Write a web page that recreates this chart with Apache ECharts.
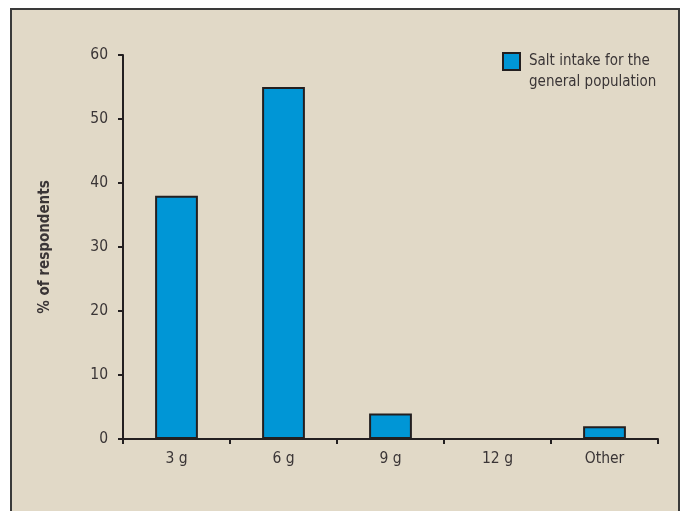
<!DOCTYPE html>
<html><head><meta charset="utf-8">
<script src="https://cdn.jsdelivr.net/npm/echarts@6/dist/echarts.min.js"></script>
<style>html,body{margin:0;padding:0;background:#fff}#c{width:680px;height:511px}</style>
</head><body><div id="c"></div>
<script>
const categories = ['3 g', '6 g', '9 g', '12 g', 'Other'];
const values = [38, 55, 4, 0, 2];
const seriesName = 'Salt intake for the\ngeneral population';
const yTicks = { min: 0, max: 60, interval: 10 };
const yName = '% of respondents';

const FONT = '"DejaVu Sans Condensed", "Liberation Sans Narrow", sans-serif';
const INK = '#231f20';
const TXT = '#3a3536';
const chart = echarts.init(document.getElementById('c'), null, { renderer: 'canvas' });
chart.setOption({
  backgroundColor: '#ffffff',
  animation: false,
  graphic: [{
    type: 'rect', z: -10, silent: true,
    shape: { x: 11, y: 9, width: 668, height: 520 },
    style: { fill: '#e1d9c7', stroke: '#3a3a3a', lineWidth: 2 }
  }],
  grid: { left: 123, top: 55, right: 22, bottom: 72, containLabel: false },
  legend: {
    left: 497, top: 25, orient: 'vertical', padding: 5,
    icon: 'rect', itemWidth: 17, itemHeight: 17, itemGap: 8,
    formatter: function (name) { return '\n' + name; },
    textStyle: { fontFamily: FONT, fontSize: 15, color: TXT, lineHeight: 21, padding: [0, 0, 0, 4] },
    data: [seriesName]
  },
  xAxis: {
    type: 'category', data: categories,
    axisLine: { lineStyle: { color: INK, width: 2 } },
    axisTick: { show: true, length: 5, lineStyle: { color: INK, width: 2 } },
    axisLabel: { fontFamily: FONT, fontSize: 15.5, color: TXT, margin: 12 }
  },
  yAxis: {
    type: 'value', min: yTicks.min, max: yTicks.max, interval: yTicks.interval,
    name: yName, nameLocation: 'middle', nameGap: 70, nameRotate: 90,
    nameTextStyle: { fontFamily: FONT, fontSize: 15, fontWeight: 'bold', color: TXT },
    splitLine: { show: false },
    axisLine: { show: true, lineStyle: { color: INK, width: 2 } },
    axisTick: { show: true, length: 5, lineStyle: { color: INK, width: 2 } },
    axisLabel: { fontFamily: FONT, fontSize: 15.5, color: TXT, margin: 15 }
  },
  series: [{
    name: seriesName, type: 'bar', data: values, barWidth: '40%',
    itemStyle: { color: '#0096d6', borderColor: INK, borderWidth: 2 }
  }]
});
</script></body></html>
